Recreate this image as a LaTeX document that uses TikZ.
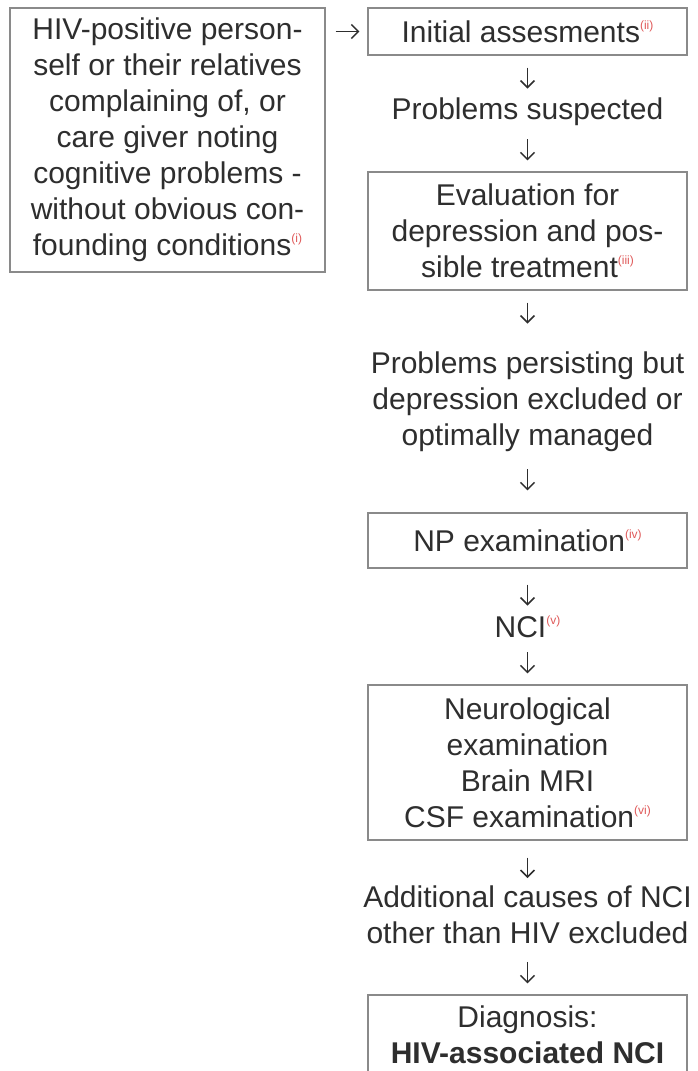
\documentclass[tikz,border=0pt]{standalone}
\usepackage{fontspec}
\setmainfont{Liberation Sans}
\usepackage{xcolor}
\usepackage{tikz}
\usetikzlibrary{arrows.meta, positioning}

\definecolor{txtgray}{HTML}{2E2E2E}
\definecolor{linegray}{HTML}{8A8A8A}
\definecolor{refred}{HTML}{E05A5A}
\newcommand{\refmark}[1]{\raisebox{6.5pt}{\fontsize{6}{6}\selectfont\color{refred}(#1)}}

\begin{document}
\begin{tikzpicture}[
    x=0.5pt, y=-0.5pt,
    font=\fontsize{15}{18}\selectfont,
    text=txtgray,
    block/.style={rectangle, draw=linegray, line width=0.6pt, align=center, inner sep=0pt, minimum width=159.5pt},
    stage/.style={align=center, inner sep=0pt},
    arrow/.style={line width=0.75pt, draw=txtgray, -{Straight Barb[length=3.5pt,width=7pt]}}
]
\path[use as bounding box, fill=white] (0,0) rectangle (697,1071);

% Entry
\node (patient) [block, minimum width=157.5pt, minimum height=132pt] at (167.5,140) {HIV-positive person-\\self or their relatives\\complaining of, or\\care giver noting\\cognitive problems -\\without obvious con-\\founding conditions\refmark{i}};

% Work-up
\node (initial) [block, minimum height=23.5pt] at (527.5,31.5) {Initial assesments\refmark{ii}};
\node (suspect) [stage, minimum height=20pt] at (527.5,112) {Problems suspected};
\node (depress) [block, minimum height=59pt] at (527.5,231) {Evaluation for\\depression and pos-\\sible treatment\refmark{iii}};
\node (persist) [stage, minimum height=55pt] at (527.5,402) {Problems persisting but\\depression excluded or\\optimally managed};
\node (npexam) [block, minimum height=27.5pt] at (527.5,540.5) {NP examination\refmark{iv}};
\node (nci) [stage, minimum height=18pt] at (527.5,627) {NCI\refmark{v}};
\node (neuro) [block, minimum height=77.5pt] at (527.5,762.5) {Neurological\\examination\\Brain MRI\\CSF examination\refmark{vi}};
\node (causes) [stage, minimum height=35pt] at (527.5,914.5) {Additional causes of NCI\\other than HIV excluded};

% Diagnosis
\node (diagnosis) [block, minimum height=40pt] at (527.5,1035) {Diagnosis:\\\textbf{HIV-associated NCI}};

% Arrows
\draw [arrow, shorten <=5pt, shorten >=4pt] (patient.east |- initial.west) -- (initial.west);
\draw [arrow, shorten <=6pt, shorten >=1.5pt] (initial) -- (suspect);
\draw [arrow, shorten <=3.5pt, shorten >=5.5pt] (suspect) -- (depress);
\draw [arrow, shorten <=6pt, shorten >=11.5pt] (depress) -- (persist);
\draw [arrow, shorten <=6pt, shorten >=11pt] (persist) -- (npexam);
\draw [arrow, shorten <=8pt, shorten >=1.5pt] (npexam) -- (nci);
\draw [arrow, shorten <=3.5pt, shorten >=5.5pt] (nci) -- (neuro);
\draw [arrow, shorten <=8.5pt, shorten >=0.5pt] (neuro) -- (causes);
\draw [arrow, shorten <=6pt, shorten >=5.5pt] (causes) -- (diagnosis);

\end{tikzpicture}
\end{document}
